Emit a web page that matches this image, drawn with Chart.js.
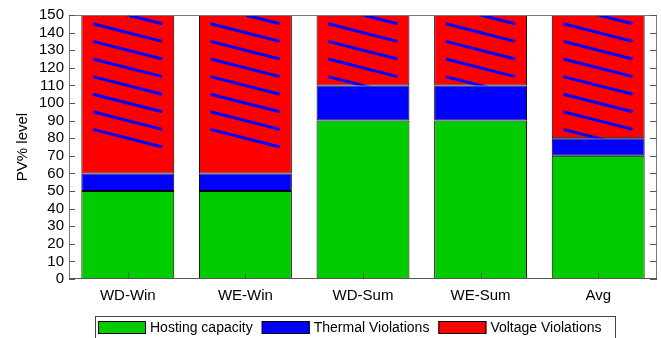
<!DOCTYPE html>
<html>
<head>
<meta charset="utf-8">
<script src="https://cdn.jsdelivr.net/npm/chart.js@4"></script>
<style>
  html, body { margin: 0; padding: 0; background: #ffffff; }
  #wrap { width: 661px; height: 338px; }
</style>
</head>
<body>
<div id="wrap"><canvas id="c" width="661" height="338"></canvas></div>
<script>
// Scenarios on the x axis
const categories = ['WD-Win', 'WE-Win', 'WD-Sum', 'WE-Sum', 'Avg'];
// Stacked segments (PV% level)
const hostingCapacity   = [50, 50, 90, 90, 70];
const thermalViolations = [10, 10, 20, 20, 10];
const voltageViolations = [90, 90, 40, 40, 70];
// Y axis range and step
const yMin = 0, yMax = 150, yStep = 10;

const FONT = '"Liberation Sans", Arial, Helvetica, sans-serif';
const GREEN = '#00cc00', BLUE = '#0000ff', RED = '#ff0000';

// Frame, inward ticks, hatching on the voltage segment and the boxed legend
const decorations = {
  id: 'decorations',
  afterDatasetsDraw(chart) {
    const ctx = chart.ctx;
    const xs = chart.scales.x, ys = chart.scales.y;
    const area = chart.chartArea;

    // diagonal blue hatching inside the voltage-violation bars
    const meta = chart.getDatasetMeta(2);
    meta.data.forEach(bar => {
      const p = bar.getProps(['x', 'y', 'base', 'width'], true);
      const left = p.x - p.width / 2;
      const top = Math.min(p.y, p.base), bottom = Math.max(p.y, p.base);
      ctx.save();
      ctx.beginPath();
      ctx.rect(left, top, p.width, bottom - top);
      ctx.clip();
      ctx.strokeStyle = BLUE;
      ctx.lineWidth = 3;
      ctx.lineCap = 'butt';
      for (let v = 155; v >= 85; v -= 10) {
        ctx.beginPath();
        ctx.moveTo(left + 0.125 * p.width, ys.getPixelForValue(v));
        ctx.lineTo(left + 0.87 * p.width, ys.getPixelForValue(v - 10));
        ctx.stroke();
      }
      ctx.restore();
    });

    ctx.save();
    // plot frame
    ctx.strokeStyle = '#7a7a7a';
    ctx.lineWidth = 1;
    ctx.strokeRect(Math.round(area.left) + 0.5, Math.round(area.top) + 0.5,
                   Math.round(area.right - area.left) - 1, Math.round(area.bottom - area.top) - 1);
    ctx.strokeStyle = '#555555';
    ctx.beginPath();
    ctx.moveTo(area.left, Math.round(area.bottom) - 0.5);
    ctx.lineTo(area.right, Math.round(area.bottom) - 0.5);
    ctx.stroke();

    // inward ticks on both vertical sides
    ctx.strokeStyle = '#555555';
    ctx.beginPath();
    for (let v = yMin; v <= yMax; v += yStep) {
      const y = Math.round(ys.getPixelForValue(v)) + 0.5;
      ctx.moveTo(area.left, y); ctx.lineTo(area.left + 6, y);
      ctx.moveTo(area.right, y); ctx.lineTo(area.right - 7, y);
    }
    // inward category ticks at bottom and top
    categories.forEach((c, i) => {
      const x = Math.round(xs.getPixelForValue(i)) + 0.5;
      ctx.moveTo(x, area.bottom); ctx.lineTo(x, area.bottom - 6);
      ctx.moveTo(x, area.top); ctx.lineTo(x, area.top + 6);
    });
    ctx.stroke();
    ctx.restore();
  },
  afterDraw(chart) {
    const ctx = chart.ctx;
    ctx.save();
    ctx.font = '14px ' + FONT;
    ctx.textBaseline = 'middle';
    ctx.textAlign = 'left';
    // legend frame
    ctx.strokeStyle = '#444444';
    ctx.lineWidth = 1;
    ctx.strokeRect(95.5, 316.5, 520, 30);
    let x = 98;
    chart.data.datasets.forEach(ds => {
      ctx.fillStyle = ds.backgroundColor;
      ctx.fillRect(x, 321, 48, 13);
      ctx.strokeStyle = '#000000';
      ctx.strokeRect(x + 0.5, 321.5, 47, 12);
      ctx.fillStyle = '#000000';
      ctx.fillText(ds.label, x + 52, 328);
      x += 52 + ctx.measureText(ds.label).width + 9;
    });
    ctx.restore();
  }
};

new Chart(document.getElementById('c'), {
  type: 'bar',
  data: {
    labels: categories,
    datasets: [
      { label: 'Hosting capacity',   data: hostingCapacity,   backgroundColor: GREEN },
      { label: 'Thermal Violations', data: thermalViolations, backgroundColor: BLUE },
      { label: 'Voltage Violations', data: voltageViolations, backgroundColor: RED }
    ].map(d => Object.assign(d, {
      borderColor: '#000000', borderWidth: 1, borderSkipped: false,
      categoryPercentage: 1.0, barPercentage: 0.79
    }))
  },
  options: {
    responsive: false,
    animation: false,
    devicePixelRatio: 1,
    layout: { padding: { top: 15, right: 4, left: 0, bottom: 0 } },
    plugins: { legend: { display: false }, tooltip: { enabled: false } },
    scales: {
      x: {
        stacked: true,
        grid: { display: false, drawTicks: false },
        border: { display: false },
        ticks: { color: '#000', font: { family: FONT, size: 15 }, padding: 8, maxRotation: 0 },
        afterFit(s) { s.height = 59; }
      },
      y: {
        stacked: true,
        min: yMin, max: yMax,
        grid: { display: false, drawTicks: false },
        border: { display: false },
        ticks: { stepSize: yStep, autoSkip: false, color: '#000',
                 font: { family: FONT, size: 15 }, padding: 5 },
        title: { display: true, text: 'PV% level', color: '#000',
                 font: { family: FONT, size: 15 }, padding: { top: 14, bottom: 0 } },
        afterFit(s) { s.width = 69; }
      }
    }
  },
  plugins: [decorations]
});
</script>
</body>
</html>
